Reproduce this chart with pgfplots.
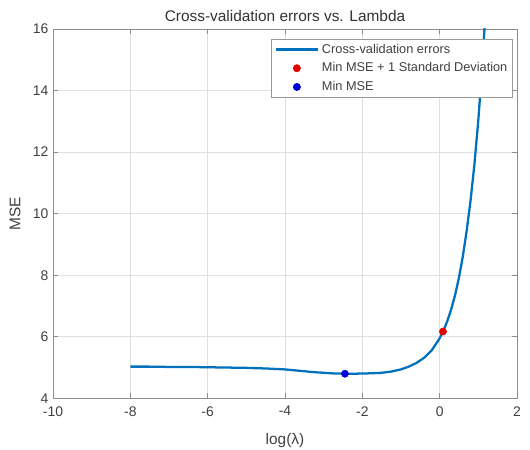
\documentclass[border=0pt]{standalone}
\usepackage{fontspec}
\setmainfont{Liberation Sans}
\usepackage{pgfplots}
\pgfplotsset{compat=1.18}
\definecolor{mlBlue}{rgb}{0,0.447,0.741}
\definecolor{txtGray}{gray}{0.25}

\begin{document}
\begin{tikzpicture}
\useasboundingbox (-39.75bp,-38.25bp) rectangle (357.75bp,298.75bp);
\begin{axis}[
  at={(0,0)}, anchor=south west,
  scale only axis,
  width=348bp, height=277bp,
  xmin=-10, xmax=2, ymin=4, ymax=16,
  xtick={-10,-8,...,2}, ytick={4,6,...,16},
  grid=major,
  major grid style={black!12, line width=0.5bp},
  axis line style={black!45, line width=0.6bp},
  tick style={black!45, line width=0.6bp},
  tick align=inside, major tick length=4bp,
  every tick label/.append style={font=\fontsize{10.5}{12}\selectfont, text=txtGray},
  xticklabel style={yshift=-2.5bp},
  /pgf/number format/assume math mode=true,
  title={Cross-validation errors vs. Lambda},
  title style={at={(axis description cs:0.5,1.014)}, anchor=center,
    font=\fontsize{11.6}{13}\selectfont, text=black!80},
  xlabel={log(λ)},
  xlabel style={at={(axis description cs:0.5,-0.114)}, anchor=center,
    font=\fontsize{11.6}{13}\selectfont, text=txtGray},
  ylabel={MSE},
  ylabel style={at={(axis description cs:-0.082,0.5)}, anchor=center, rotate=0,
    font=\fontsize{11.6}{13}\selectfont, text=txtGray},
  legend style={at={(axis description cs:1,1)}, anchor=north east,
    xshift=-3bp, yshift=-7.5bp,
    draw=black!40, line width=0.5bp, fill=white,
    font=\fontsize{9.6}{11}\selectfont, text=txtGray,
    inner xsep=2bp, inner ysep=1.5bp, row sep=1.6bp},
  legend cell align=left,
]
\addplot[mlBlue, line width=1.7bp, line join=round,
  legend image code/.code={\path (0bp,0bp) (32bp,0bp);
    \draw[mlBlue, line width=1.7bp] (0bp,0bp) -- (32bp,0bp);}]
  coordinates {
  (-8,5.03) (-7.5,5.03) (-7,5.02) (-6.5,5.02) (-6,5.01) (-5.5,5.00)
  (-5,4.99) (-4.5,4.97) (-4,4.94) (-3.75,4.91) (-3.5,4.88) (-3.25,4.85)
  (-3,4.83) (-2.75,4.81) (-2.5,4.805) (-2.25,4.80) (-2,4.805) (-1.75,4.815)
  (-1.5,4.83) (-1.25,4.87) (-1.0,4.94) (-0.8,5.03) (-0.6,5.15) (-0.4,5.32)
  (-0.2,5.57) (0,5.95) (0.1,6.20) (0.2,6.52) (0.3,6.90) (0.4,7.36)
  (0.5,7.93) (0.6,8.62) (0.7,9.46) (0.8,10.44) (0.9,11.62) (1.0,13.05)
  (1.1,14.77) (1.2,16.86)
  };
\addlegendentry{Cross-validation errors}
\addplot[only marks, mark=*, mark size=2.7bp, color=red!90!black,
  legend image code/.code={\path (0bp,0bp) (32bp,0bp);
    \fill[red!90!black] (16bp,0bp) circle (2.7bp);}]
  coordinates {(0.085,6.17)};
\addlegendentry{Min MSE + 1 Standard Deviation}
\addplot[only marks, mark=*, mark size=2.7bp, color=blue!85!black,
  legend image code/.code={\path (0bp,0bp) (32bp,0bp);
    \fill[blue!85!black] (16bp,0bp) circle (2.7bp);}]
  coordinates {(-2.45,4.80)};
\addlegendentry{Min MSE}
\end{axis}
\end{tikzpicture}
\end{document}
